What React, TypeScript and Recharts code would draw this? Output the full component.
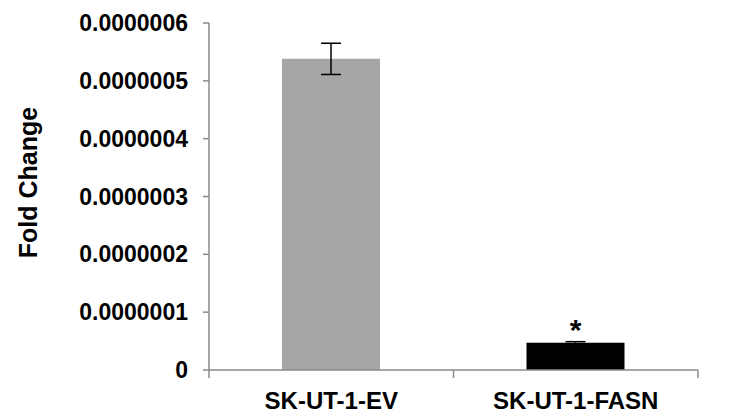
import React from 'react';
import { BarChart, Bar, XAxis, YAxis, ErrorBar, Cell, LabelList } from 'recharts';

// --- Data ---
const categories = ['SK-UT-1-EV', 'SK-UT-1-FASN'];
const foldChange = [0.000000538, 0.000000047];
const stdErr = [0.000000027, 0.000000002];
const signif = ['', '*'];
const barColors = ['#a6a6a6', '#000000'];
const yTicks = [0, 0.0000001, 0.0000002, 0.0000003, 0.0000004, 0.0000005, 0.0000006];

const data = categories.map((name, i) => ({
  name,
  value: foldChange[i],
  err: stdErr[i],
  sig: signif[i],
}));

const FONT = '"Liberation Sans", Arial, sans-serif';
const AXIS = '#8a8a8a';

const fmtTick = (v: number) => (v === 0 ? '0' : v.toFixed(7));

// category tick: label centred, tick marks on band edges
const CatTick = (props: any) => {
  const { x, y, payload, index } = props;
  const half = payload && payload.offset ? payload.offset : 122;
  return (
    <g>
      {index === 0 && <line x1={x - half} x2={x - half} y1={y} y2={y + 8} stroke={AXIS} strokeWidth={1.5} />}
      <line x1={x + half} x2={x + half} y1={y} y2={y + 8} stroke={AXIS} strokeWidth={1.5} />
      <text x={x} y={y + 39} textAnchor="middle" fontFamily={FONT} fontWeight="bold" fontSize={24} fill="#000">
        {payload.value}
      </text>
    </g>
  );
};

const YLabel = (props: any) => {
  const { viewBox } = props;
  const cx = 37;
  const cy = viewBox.y + viewBox.height / 2 - 14;
  return (
    <text
      x={cx}
      y={cy}
      transform={`rotate(-90, ${cx}, ${cy})`}
      textAnchor="middle"
      fontFamily={FONT}
      fontWeight="bold"
      fontSize={25}
      fill="#000"
    >
      Fold Change
    </text>
  );
};

export default function App() {
  return (
    <div style={{ position: 'absolute', left: 0, top: 0, width: 733, height: 413, background: '#fff' }}>
      <BarChart
        width={733}
        height={413}
        data={data}
        margin={{ top: 23, right: 35, bottom: 0, left: 0 }}
        barSize={98}
      >
        <XAxis
          dataKey="name"
          height={43}
          axisLine={{ stroke: AXIS, strokeWidth: 1.5 }}
          tickLine={false}
          tickSize={0}
          tickMargin={0}
          tick={<CatTick />}
          interval={0}
        />
        <YAxis
          width={209}
          domain={[0, 0.0000006]}
          ticks={yTicks}
          tickFormatter={fmtTick}
          axisLine={{ stroke: AXIS, strokeWidth: 1.5 }}
          tickLine={{ stroke: AXIS, strokeWidth: 1.5 }}
          tickSize={6}
          tickMargin={15}
          tick={{ fill: '#000', fontFamily: FONT, fontWeight: 'bold', fontSize: 23 }}
          label={<YLabel />}
          interval={0}
        />
        <Bar dataKey="value" isAnimationActive={false}>
          {data.map((d, i) => (
            <Cell key={d.name} fill={barColors[i]} />
          ))}
          <ErrorBar dataKey="err" width={10} stroke="#000" strokeWidth={1.5} isAnimationActive={false} />
          <LabelList
            dataKey="sig"
            position="top"
            offset={3}
            fill="#000"
            fontFamily={FONT}
            fontWeight="bold"
            fontSize={30}
          />
        </Bar>
      </BarChart>
    </div>
  );
}
